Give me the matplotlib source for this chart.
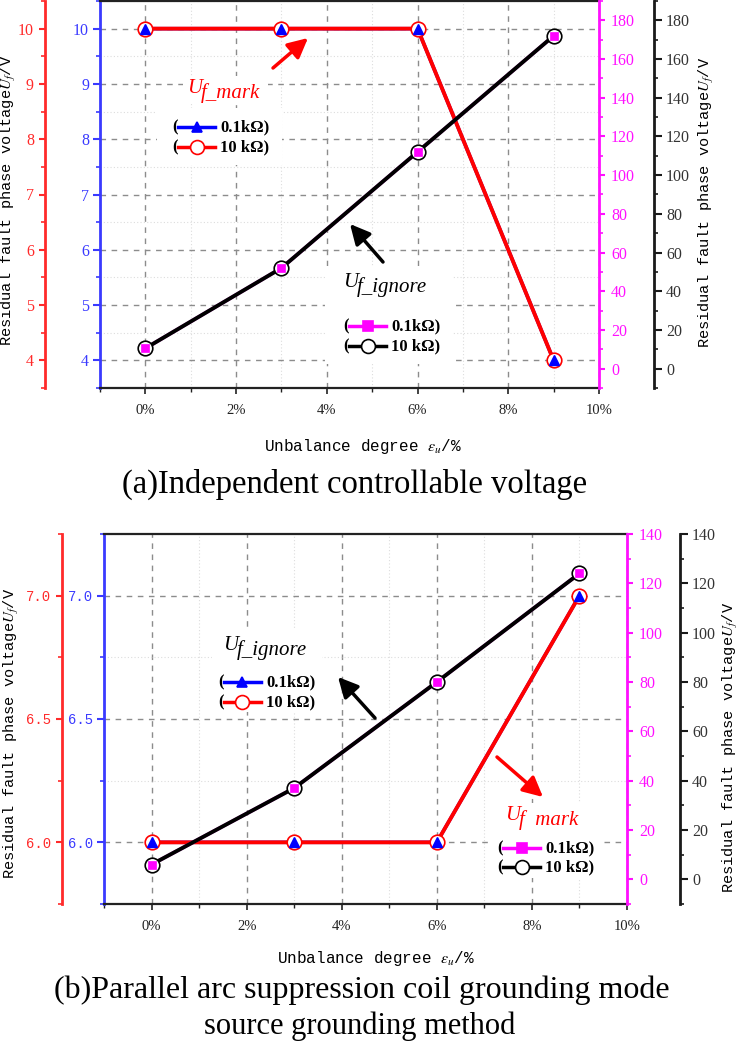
import matplotlib
matplotlib.use("Agg")
import matplotlib.pyplot as plt
from matplotlib.lines import Line2D
from matplotlib.patches import Rectangle, FancyArrowPatch, ArrowStyle
from matplotlib.ticker import MultipleLocator

plt.rcParams['font.family'] = ['Liberation Serif', 'DejaVu Sans']
plt.rcParams['mathtext.fontset'] = 'stix'

W, H = 741, 1051
DPI = 100

# ---------------- data ----------------
unbalance = [0, 3, 6, 9]
x_ticks = [0, 2, 4, 6, 8, 10]
x_ticklabels = ["0%", "2%", "4%", "6%", "8%", "10%"]

a_mark_01k = [10, 10, 10, 4]
a_mark_10k = [10, 10, 10, 4]
a_ignore_01k = [10.5, 52, 112, 172]
a_ignore_10k = [10.5, 52, 112, 172]
a_left_ticks = [4, 5, 6, 7, 8, 9, 10]
a_left_labels = ["4", "5", "6", "7", "8", "9", "10"]
a_right_ticks = [0, 20, 40, 60, 80, 100, 120, 140, 160, 180]

b_mark_01k = [6.0, 6.0, 6.0, 7.0]
b_mark_10k = [6.0, 6.0, 6.0, 7.0]
b_ignore_01k = [6, 37, 80, 124]
b_ignore_10k = [6, 37, 80, 124]
b_left_ticks = [6.0, 6.5, 7.0]
b_left_labels = ["6.0", "6.5", "7.0"]
b_right_ticks = [0, 20, 40, 60, 80, 100, 120, 140]

legend_labels = ["0.1k\u03a9)", "10 k\u03a9)"]
ylabel_text = "Residual fault phase voltage$U_f$/V"
xlabel_text = "Unbalance degree $\\varepsilon_u$/%"
title_a = "(a)Independent controllable voltage"
title_b = ["(b)Parallel arc suppression coil grounding mode", "source grounding method"]

RED = "#FF2A2A"
BLUE = "#3A3AFF"
MAG = "#FF10FF"
BLK = "#1a1a1a"

TICK_FS = 11.5


def pt(px):
    return px * 72.0 / DPI


def fx(px):
    return px / W


def fy(py):
    return 1 - py / H


fig = plt.figure(figsize=(W / DPI, H / DPI), dpi=DPI)


def panel(box, left_lim, left_ticks, left_labels, left_minor, left_font, left_fs,
          right_lim, right_ticks, right_minor, red_off, blk_off,
          mark_01k, mark_10k, ign_01k, ign_10k):
    l, t, r, b = box
    ax = fig.add_axes([fx(l), fy(b), (r - l) / W, (b - t) / H])
    ax.set_xlim(-1, 10)
    ax.set_ylim(*left_lim)
    ax.set_xticks(x_ticks)
    ax.set_xticklabels(x_ticklabels, fontsize=10.5)
    ax.xaxis.set_minor_locator(MultipleLocator(1))
    ax.set_yticks(left_ticks)
    ax.set_yticklabels(left_labels, fontsize=left_fs, family=left_font)
    ax.yaxis.set_minor_locator(MultipleLocator(left_minor))
    ax.grid(True, which='major', color='#8c8c8c', linestyle=(0, (4, 4)), linewidth=1.0)
    ax.grid(True, which='minor', color='#dddddd', linestyle=(0, (1, 2)), linewidth=0.8)
    ax.set_axisbelow(True)
    ax.tick_params(axis='x', which='major', direction='out', length=pt(6), width=1.2,
                   pad=pt(10), colors='#222222')
    ax.tick_params(axis='x', which='minor', direction='out', length=pt(3.5), width=1.0,
                   colors='#222222')
    ax.tick_params(axis='y', which='major', direction='out', length=pt(7), width=1.5,
                   colors=BLUE, pad=pt(4))
    ax.tick_params(axis='y', which='minor', direction='out', length=pt(4), width=1.2,
                   colors=BLUE)
    ax.spines['left'].set_color(BLUE)
    ax.spines['left'].set_linewidth(2)
    ax.spines['right'].set_visible(False)
    ax.spines['top'].set_linewidth(1.6)
    ax.spines['bottom'].set_linewidth(1.6)
    ax.spines['top'].set_color('#222222')
    ax.spines['bottom'].set_color('#222222')

    # red outer left axis
    axr = ax.twinx()
    axr.set_ylim(*left_lim)
    axr.yaxis.tick_left()
    axr.yaxis.set_label_position('left')
    for s in ('right', 'top', 'bottom'):
        axr.spines[s].set_visible(False)
    axr.spines['left'].set_visible(True)
    axr.spines['left'].set_position(('outward', pt(red_off)))
    axr.spines['left'].set_color(RED)
    axr.spines['left'].set_linewidth(2)
    axr.set_yticks(left_ticks)
    axr.set_yticklabels(left_labels, fontsize=left_fs, family=left_font)
    axr.yaxis.set_minor_locator(MultipleLocator(left_minor))
    axr.tick_params(axis='y', which='major', direction='out', length=pt(6), width=1.5,
                    colors=RED, pad=pt(5))
    axr.tick_params(axis='y', which='minor', direction='out', length=pt(4), width=1.2,
                    colors=RED)

    # magenta inner right axis
    axm = ax.twinx()
    axm.set_ylim(*right_lim)
    for s in ('left', 'top', 'bottom'):
        axm.spines[s].set_visible(False)
    axm.spines['right'].set_color(MAG)
    axm.spines['right'].set_linewidth(2)
    axm.set_yticks(right_ticks)
    axm.set_yticklabels([str(v) for v in right_ticks], fontsize=TICK_FS)
    axm.yaxis.set_minor_locator(MultipleLocator(right_minor))
    axm.tick_params(axis='y', which='major', direction='out', length=pt(6), width=1.5,
                    colors=MAG, pad=pt(6))
    axm.tick_params(axis='y', which='minor', direction='out', length=pt(4), width=1.2,
                    colors=MAG)

    # black outer right axis
    axk = ax.twinx()
    axk.set_ylim(*right_lim)
    for s in ('left', 'top', 'bottom'):
        axk.spines[s].set_visible(False)
    axk.spines['right'].set_position(('outward', pt(blk_off)))
    axk.spines['right'].set_color(BLK)
    axk.spines['right'].set_linewidth(2)
    axk.set_yticks(right_ticks)
    axk.set_yticklabels([str(v) for v in right_ticks], fontsize=TICK_FS)
    axk.yaxis.set_minor_locator(MultipleLocator(right_minor))
    axk.tick_params(axis='y', which='major', direction='out', length=pt(8), width=1.5,
                    colors=BLK, pad=pt(4), labelcolor='#333333')
    axk.tick_params(axis='y', which='minor', direction='out', length=pt(4), width=1.2,
                    colors=BLK)

    # data on left scale
    ax.plot(unbalance, mark_01k, color='#0000FF', lw=2.5, zorder=2, clip_on=False)
    ax.plot(unbalance, mark_10k, color='#FF0000', lw=2.8, zorder=3, clip_on=False)
    ax.plot(unbalance, mark_10k, ls='none', marker='o', ms=10.5, mfc='white', mec='#FF0000',
            mew=1.2, zorder=4, clip_on=False)
    ax.plot(unbalance, mark_01k, ls='none', marker='^', ms=7, color='#0000FF',
            zorder=5, clip_on=False)
    # data on right scale
    axm.plot(unbalance, ign_01k, color=MAG, lw=2.5, zorder=2, clip_on=False)
    axm.plot(unbalance, ign_10k, color='black', lw=2.8, zorder=3, clip_on=False)
    axm.plot(unbalance, ign_10k, ls='none', marker='o', ms=10.5, mfc='white', mec='black',
             mew=1.2, zorder=4, clip_on=False)
    axm.plot(unbalance, ign_01k, ls='none', marker='s', ms=5.5, mfc='#FF00FF',
             mec='#FF00FF', mew=0.5, zorder=5, clip_on=False)
    return ax


def white_box(x0, y0, x1, y1):
    fig.add_artist(Rectangle((fx(x0), fy(y1)), (x1 - x0) / W, (y1 - y0) / H,
                             transform=fig.transFigure, facecolor='white',
                             edgecolor='none', zorder=1))


def uf_label(xu, base_u, rest, color, drop=5, size=15):
    fig.text(fx(xu), fy(base_u), "U", color=color, fontsize=size, style='italic',
             family='Liberation Serif', va='baseline', ha='left', zorder=5)
    fig.text(fx(xu + 14), fy(base_u + drop), rest, color=color, fontsize=size,
             style='italic', family='Liberation Serif', va='baseline', ha='left', zorder=5)


def legend_row(x0, y, line_color, marker, mfc, mec, ms, label):
    fig.text(fx(x0), fy(y), "(", fontsize=12, fontweight='bold', va='center', ha='left',
             zorder=5)
    fig.add_artist(Line2D([fx(x0 + 6), fx(x0 + 43)], [fy(y), fy(y)],
                          transform=fig.transFigure, color=line_color, lw=2.5, zorder=4))
    fig.add_artist(Line2D([fx(x0 + 24.5)], [fy(y)], transform=fig.transFigure, ls='none',
                          marker=marker, ms=ms, mfc=mfc, mec=mec, mew=1.2, zorder=5))
    fig.text(fx(x0 + 48), fy(y), label, fontsize=12, fontweight='bold', va='center',
             ha='left', zorder=5)


def arrow(x0, y0, x1, y1, color):
    fig.add_artist(FancyArrowPatch((fx(x0), fy(y0)), (fx(x1), fy(y1)),
                                   transform=fig.transFigure,
                                   arrowstyle=ArrowStyle('-|>', head_length=0.6, head_width=0.3),
                                   mutation_scale=20, lw=2.5, color=color,
                                   shrinkA=0, shrinkB=0, zorder=6))


def rows_mark(x0, y0, y1):
    legend_row(x0, y0, '#0000FF', '^', '#0000FF', '#0000FF', 7.5, legend_labels[0])
    legend_row(x0, y1, '#FF0000', 'o', 'white', '#FF0000', 10, legend_labels[1])


def rows_ignore(x0, y0, y1):
    legend_row(x0, y0, '#FF00FF', 's', '#FF00FF', '#FF00FF', 6.5, legend_labels[0])
    legend_row(x0, y1, 'black', 'o', 'white', 'black', 10, legend_labels[1])


# ---------------- panel (a) ----------------
panel((100, 1, 599, 388), (3.5, 10.5), a_left_ticks, a_left_labels, 0.5, 'Liberation Serif',
      TICK_FS, (-10, 190), a_right_ticks, 10, 55, 55,
      a_mark_01k, a_mark_10k, a_ignore_01k, a_ignore_10k)

white_box(183, 76, 268, 104)
white_box(157, 108, 282, 165)
uf_label(187, 93, "f_mark", '#FF0000')
rows_mark(172, 127, 147)
arrow(273, 68, 308, 38, '#FF0000')

white_box(325, 266, 453, 364)
uf_label(343, 287, "f_ignore", 'black')
rows_ignore(343, 326, 346)
arrow(383, 262, 350, 224, 'black')

fig.text(fx(9), fy(200), ylabel_text, rotation=90, family='Liberation Mono', fontsize=11,
         va='center', ha='center')
fig.text(fx(707), fy(202), ylabel_text, rotation=90, family='Liberation Mono', fontsize=11,
         va='center', ha='center')
fig.text(fx(363), fy(446), xlabel_text, family='Liberation Mono', fontsize=11.5,
         va='center', ha='center')
fig.text(fx(355), fy(484), title_a, family='Liberation Serif', fontsize=23.5,
         va='center', ha='center')

# ---------------- panel (b) ----------------
panel((104, 534, 627, 904), (5.75, 7.25), b_left_ticks, b_left_labels, 0.25, 'Liberation Mono',
      10, (-10, 140), b_right_ticks, 10, 42, 53,
      b_mark_01k, b_mark_10k, b_ignore_01k, b_ignore_10k)

white_box(212, 630, 322, 712)
uf_label(223, 650, "f_ignore", 'black')
rows_mark(218, 682, 702)
arrow(375, 718, 338, 677, 'black')

white_box(492, 803, 602, 878)
uf_label(505, 820, "f  mark", '#FF0000')
rows_ignore(497, 848, 867)
arrow(497, 757, 543, 797, '#FF0000')

fig.text(fx(12), fy(733), ylabel_text, rotation=90, family='Liberation Mono', fontsize=11,
         va='center', ha='center')
fig.text(fx(730), fy(747), ylabel_text, rotation=90, family='Liberation Mono', fontsize=11,
         va='center', ha='center')
fig.text(fx(376), fy(958), xlabel_text, family='Liberation Mono', fontsize=11.5,
         va='center', ha='center')
fig.text(fx(362), fy(990), title_b[0], family='Liberation Serif', fontsize=23,
         va='center', ha='center')
fig.text(fx(360), fy(1026), title_b[1], family='Liberation Serif', fontsize=22,
         va='center', ha='center')

fig.savefig("out.png", dpi=DPI)
